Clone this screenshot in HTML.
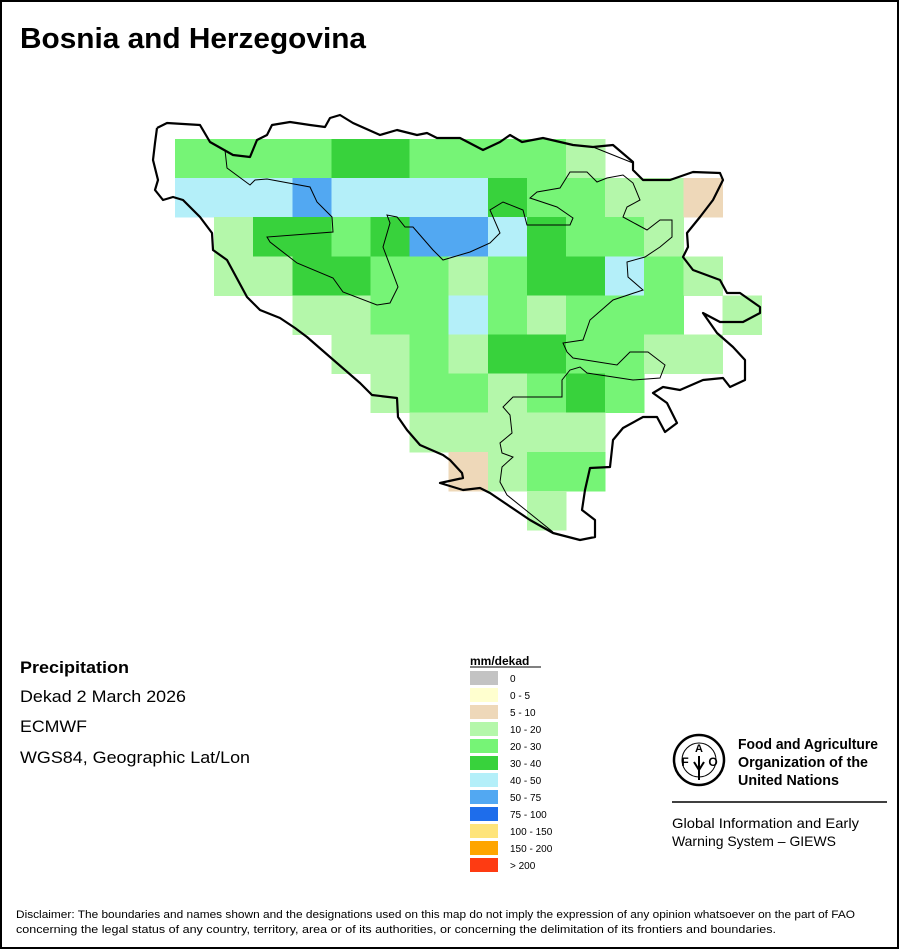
<!DOCTYPE html>
<html><head><meta charset="utf-8"><style>
html,body{margin:0;padding:0;background:#fff}
svg{display:block}
text{font-family:"Liberation Sans",Arial,sans-serif}
</style></head><body>
<svg width="900" height="950" viewBox="0 0 900 950" xmlns="http://www.w3.org/2000/svg">
<rect x="0" y="0" width="900" height="950" fill="#fff"/>
<g shape-rendering="crispEdges">
<rect x="175" y="139" width="156.9" height="39.6" fill="#76f476"/>
<rect x="331.4" y="139" width="78.7" height="39.6" fill="#38d23c"/>
<rect x="409.6" y="139" width="156.9" height="39.6" fill="#76f476"/>
<rect x="566" y="139" width="39.6" height="39.6" fill="#b4f7aa"/>
<rect x="175" y="178.1" width="117.8" height="39.6" fill="#b4eff9"/>
<rect x="292.3" y="178.1" width="39.6" height="39.6" fill="#52a8f2"/>
<rect x="331.4" y="178.1" width="156.9" height="39.6" fill="#b4eff9"/>
<rect x="487.8" y="178.1" width="39.6" height="39.6" fill="#38d23c"/>
<rect x="526.9" y="178.1" width="78.7" height="39.6" fill="#76f476"/>
<rect x="605.1" y="178.1" width="78.7" height="39.6" fill="#b4f7aa"/>
<rect x="683.3" y="178.1" width="39.6" height="39.6" fill="#eed8b9"/>
<rect x="214.1" y="217.2" width="39.6" height="39.6" fill="#b4f7aa"/>
<rect x="253.2" y="217.2" width="78.7" height="39.6" fill="#38d23c"/>
<rect x="331.4" y="217.2" width="39.6" height="39.6" fill="#76f476"/>
<rect x="370.5" y="217.2" width="39.6" height="39.6" fill="#38d23c"/>
<rect x="409.6" y="217.2" width="78.7" height="39.6" fill="#52a8f2"/>
<rect x="487.8" y="217.2" width="39.6" height="39.6" fill="#b4eff9"/>
<rect x="526.9" y="217.2" width="39.6" height="39.6" fill="#38d23c"/>
<rect x="566" y="217.2" width="78.7" height="39.6" fill="#76f476"/>
<rect x="644.2" y="217.2" width="39.6" height="39.6" fill="#b4f7aa"/>
<rect x="214.1" y="256.3" width="78.7" height="39.6" fill="#b4f7aa"/>
<rect x="292.3" y="256.3" width="78.7" height="39.6" fill="#38d23c"/>
<rect x="370.5" y="256.3" width="78.7" height="39.6" fill="#76f476"/>
<rect x="448.7" y="256.3" width="39.6" height="39.6" fill="#b4f7aa"/>
<rect x="487.8" y="256.3" width="39.6" height="39.6" fill="#76f476"/>
<rect x="526.9" y="256.3" width="78.7" height="39.6" fill="#38d23c"/>
<rect x="605.1" y="256.3" width="39.6" height="39.6" fill="#b4eff9"/>
<rect x="644.2" y="256.3" width="39.6" height="39.6" fill="#76f476"/>
<rect x="683.3" y="256.3" width="39.6" height="39.6" fill="#b4f7aa"/>
<rect x="292.3" y="295.4" width="78.7" height="39.6" fill="#b4f7aa"/>
<rect x="370.5" y="295.4" width="78.7" height="39.6" fill="#76f476"/>
<rect x="448.7" y="295.4" width="39.6" height="39.6" fill="#b4eff9"/>
<rect x="487.8" y="295.4" width="39.6" height="39.6" fill="#76f476"/>
<rect x="526.9" y="295.4" width="39.6" height="39.6" fill="#b4f7aa"/>
<rect x="566" y="295.4" width="117.8" height="39.6" fill="#76f476"/>
<rect x="722.4" y="295.4" width="39.6" height="39.6" fill="#b4f7aa"/>
<rect x="331.4" y="334.5" width="78.7" height="39.6" fill="#b4f7aa"/>
<rect x="409.6" y="334.5" width="39.6" height="39.6" fill="#76f476"/>
<rect x="448.7" y="334.5" width="39.6" height="39.6" fill="#b4f7aa"/>
<rect x="487.8" y="334.5" width="78.7" height="39.6" fill="#38d23c"/>
<rect x="566" y="334.5" width="78.7" height="39.6" fill="#76f476"/>
<rect x="644.2" y="334.5" width="78.7" height="39.6" fill="#b4f7aa"/>
<rect x="370.5" y="373.6" width="39.6" height="39.6" fill="#b4f7aa"/>
<rect x="409.6" y="373.6" width="78.7" height="39.6" fill="#76f476"/>
<rect x="487.8" y="373.6" width="39.6" height="39.6" fill="#b4f7aa"/>
<rect x="526.9" y="373.6" width="39.6" height="39.6" fill="#76f476"/>
<rect x="566" y="373.6" width="39.6" height="39.6" fill="#38d23c"/>
<rect x="605.1" y="373.6" width="39.6" height="39.6" fill="#76f476"/>
<rect x="409.6" y="412.7" width="196" height="39.6" fill="#b4f7aa"/>
<rect x="448.7" y="451.8" width="39.6" height="39.6" fill="#eed8b9"/>
<rect x="487.8" y="451.8" width="39.6" height="39.6" fill="#b4f7aa"/>
<rect x="526.9" y="451.8" width="78.7" height="39.6" fill="#76f476"/>
<rect x="526.9" y="490.9" width="39.6" height="39.6" fill="#b4f7aa"/>
</g>
<polyline fill="none" stroke="#000" stroke-width="2.2" stroke-linejoin="round" points="157,128 167,123 200,125 210,142 233,155 250,157 257,140 267,135 272,125 290,122 310,125 325,127 330,118 340,115 353,123 380,135 397,130 417,135 427,133 437,138 460,138 483,150 500,142 510,135 522,142 543,138 573,145 593,147 613,145 633,162 633,170 643,180 670,180 693,172 720,173 723,180 713,200 700,217 687,233 688,247 683,257 693,270 720,280 727,293 740,293 760,307 760,313 743,322 720,322 703,313 717,333 733,347 745,360 745,380 730,387 723,378 703,380 680,390 663,387 653,393 667,403 677,423 665,432 657,417 643,417 623,428 613,440 610,467 590,468 585,490 582,510 595,520 595,537 580,540 553,533 530,520 490,493 480,488 463,490 440,483 463,478 462,473 450,460 443,455 420,445 407,430 398,417 397,398 372,395 360,383 330,357 307,337 295,328 280,318 260,310 247,297 227,260 213,250 212,233 200,217 183,200 173,197 163,200 155,190 158,180 153,160 155,143 157,128"/>
<polyline fill="none" stroke="#000" stroke-width="1" points="225,150 227,168 250,185 255,180 267,179 310,187 317,202 332,217 333,232 267,237 270,242 297,263 333,278 343,292 377,305 390,303 398,287 383,247 390,223 387,215 397,217 405,227 413,227 433,250 443,260 470,252 490,243 500,233 490,210 503,202 523,210 527,225 570,225 573,218 557,207 530,198 537,192 560,188 570,172 587,172 597,182 607,178 623,175 633,183 640,200 627,207 623,217 647,230 660,220 672,220 672,237 660,247 645,257 627,262 628,277 643,290 613,300 590,320 583,340 563,343 567,352 573,358 617,365 630,352 648,352 665,365 660,378 633,380 587,373 580,367 570,370 562,380 562,397 513,397 503,407 510,415 512,433 500,443 502,453 513,457 502,467 500,482 507,495 553,532"/>
<polyline fill="none" stroke="#000" stroke-width="1" points="593,147 633,163"/>
<text x="20" y="48" font-size="29" font-weight="bold" textLength="346" lengthAdjust="spacingAndGlyphs">Bosnia and Herzegovina</text>
<text x="20" y="673" font-size="17" font-weight="bold" textLength="109" lengthAdjust="spacingAndGlyphs">Precipitation</text>
<text x="20" y="702" font-size="17" textLength="166" lengthAdjust="spacingAndGlyphs">Dekad 2 March 2026</text>
<text x="20" y="732" font-size="17" textLength="67" lengthAdjust="spacingAndGlyphs">ECMWF</text>
<text x="20" y="763" font-size="17" textLength="230" lengthAdjust="spacingAndGlyphs">WGS84, Geographic Lat/Lon</text>
<text x="470" y="665" font-size="12" font-weight="bold">mm/dekad</text>
<line x1="470" y1="667" x2="541" y2="667" stroke="#000" stroke-width="1"/>
<g shape-rendering="crispEdges">
<rect x="470" y="671" width="28" height="14" fill="#c3c3c3"/>
<rect x="470" y="688" width="28" height="14" fill="#ffffcf"/>
<rect x="470" y="705" width="28" height="14" fill="#eed8b9"/>
<rect x="470" y="722" width="28" height="14" fill="#b4f7aa"/>
<rect x="470" y="739" width="28" height="14" fill="#76f476"/>
<rect x="470" y="756" width="28" height="14" fill="#38d23c"/>
<rect x="470" y="773" width="28" height="14" fill="#b4eff9"/>
<rect x="470" y="790" width="28" height="14" fill="#52a8f2"/>
<rect x="470" y="807" width="28" height="14" fill="#1e6deb"/>
<rect x="470" y="824" width="28" height="14" fill="#fee47a"/>
<rect x="470" y="841" width="28" height="14" fill="#fea500"/>
<rect x="470" y="858" width="28" height="14" fill="#fe3b12"/>
</g>
<g font-size="10">
<text x="510" y="682">0</text>
<text x="510" y="699">0 - 5</text>
<text x="510" y="716">5 - 10</text>
<text x="510" y="733">10 - 20</text>
<text x="510" y="750">20 - 30</text>
<text x="510" y="767">30 - 40</text>
<text x="510" y="784">40 - 50</text>
<text x="510" y="801">50 - 75</text>
<text x="510" y="818">75 - 100</text>
<text x="510" y="835">100 - 150</text>
<text x="510" y="852">150 - 200</text>
<text x="510" y="869">&gt; 200</text>
</g>
<circle cx="699" cy="760" r="25" fill="none" stroke="#000" stroke-width="2.5"/>
<circle cx="699" cy="760" r="17" fill="none" stroke="#000" stroke-width="1"/>
<text x="685" y="766" font-size="12" font-weight="bold" text-anchor="middle">F</text>
<text x="699" y="752" font-size="11" font-weight="bold" text-anchor="middle">A</text>
<text x="713" y="766" font-size="12" font-weight="bold" text-anchor="middle">O</text>
<path d="M699 756 L699 780 M694 762 L699 770 L704 762" stroke="#000" stroke-width="2" fill="none"/>
<g font-size="15" font-weight="bold">
<text x="738" y="749" textLength="140" lengthAdjust="spacingAndGlyphs">Food and Agriculture</text>
<text x="738" y="767" textLength="130" lengthAdjust="spacingAndGlyphs">Organization of the</text>
<text x="738" y="785" textLength="101" lengthAdjust="spacingAndGlyphs">United Nations</text>
</g>
<line x1="672" y1="802" x2="887" y2="802" stroke="#000" stroke-width="1.5"/>
<g font-size="14">
<text x="672" y="828" textLength="187" lengthAdjust="spacingAndGlyphs">Global Information and Early</text>
<text x="672" y="846" textLength="164" lengthAdjust="spacingAndGlyphs">Warning System – GIEWS</text>
</g>
<g font-size="11">
<text x="16" y="918" textLength="839" lengthAdjust="spacingAndGlyphs">Disclaimer: The boundaries and names shown and the designations used on this map do not imply the expression of any opinion whatsoever on the part of FAO</text>
<text x="16" y="933" textLength="760" lengthAdjust="spacingAndGlyphs">concerning the legal status of any country, territory, area or of its authorities, or concerning the delimitation of its frontiers and boundaries.</text>
</g>
<rect x="1" y="1" width="897" height="947" fill="none" stroke="#000" stroke-width="2"/>
</svg>
</body></html>
